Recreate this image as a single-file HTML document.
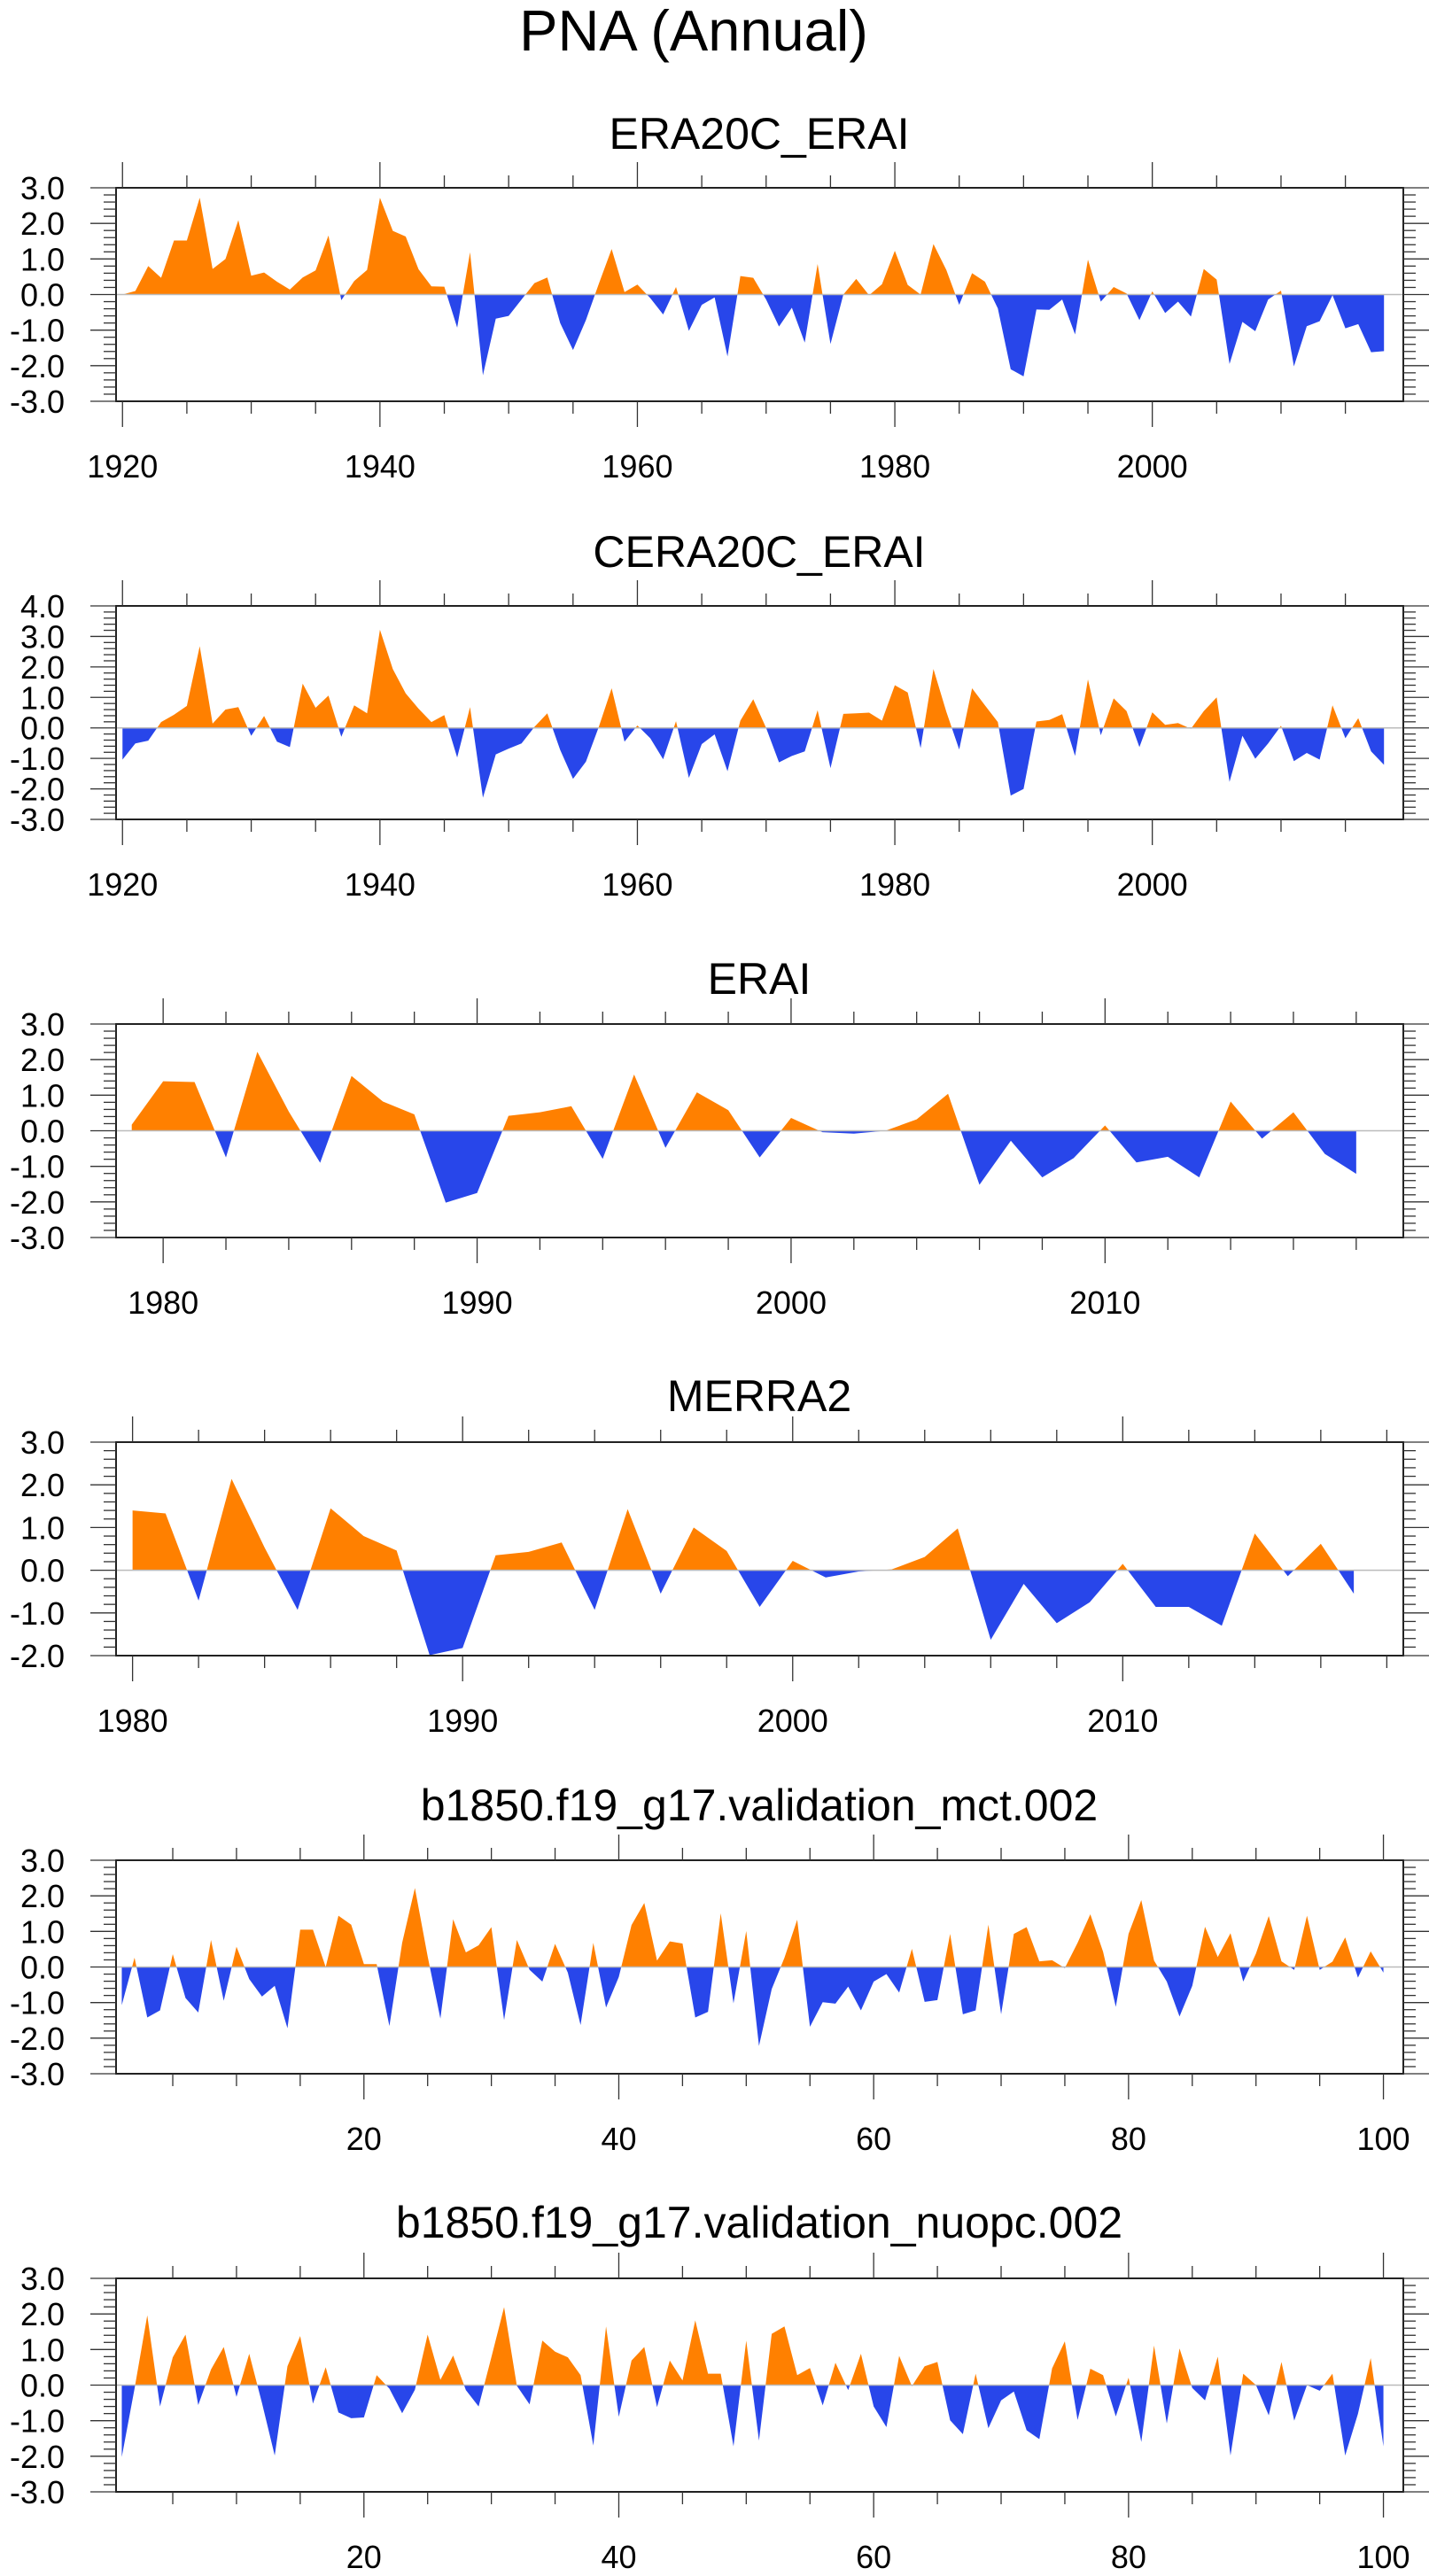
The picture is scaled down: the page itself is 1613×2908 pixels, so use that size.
<!DOCTYPE html>
<html><head><meta charset="utf-8"><title>PNA (Annual)</title>
<style>
html,body{margin:0;padding:0;background:#fff;}
svg{display:block;font-family:"Liberation Sans",Arial,sans-serif;}
</style></head>
<body>
<svg id="fig" xmlns="http://www.w3.org/2000/svg" width="1613" height="2908" viewBox="0 0 1613 2908">
<rect x="0" y="0" width="1613" height="2908" fill="#fff"/>
<text x="783" y="57" font-size="65" text-anchor="middle" fill="#000">PNA (Annual)</text>
</svg>
<script>
// ---- Data ----
const p1Values = [0.0,0.1,0.8,0.47,1.52,1.52,2.72,0.72,1.0,2.09,0.53,0.62,0.36,0.14,0.48,0.68,1.66,-0.16,0.38,0.69,2.72,1.79,1.63,0.71,0.23,0.22,-0.93,1.19,-2.27,-0.68,-0.6,-0.14,0.32,0.48,-0.8,-1.56,-0.72,0.3,1.28,0.07,0.28,-0.1,-0.56,0.21,-1.02,-0.29,-0.08,-1.74,0.52,0.47,-0.14,-0.9,-0.37,-1.35,0.86,-1.39,0.0,0.44,-0.02,0.29,1.23,0.27,0.0,1.42,0.69,-0.29,0.6,0.36,-0.39,-2.1,-2.3,-0.42,-0.43,-0.14,-1.12,0.98,-0.2,0.21,0.03,-0.72,0.09,-0.52,-0.2,-0.62,0.72,0.42,-1.95,-0.77,-1.03,-0.14,0.11,-2.02,-0.89,-0.75,-0.02,-0.95,-0.83,-1.62,-1.59];
const p2Values = [-1.04,-0.51,-0.42,0.19,0.43,0.72,2.68,0.14,0.6,0.68,-0.26,0.39,-0.45,-0.63,1.45,0.66,1.06,-0.29,0.74,0.48,3.22,1.93,1.13,0.63,0.19,0.42,-0.97,0.68,-2.29,-0.87,-0.68,-0.51,0.03,0.48,-0.72,-1.67,-1.11,0.03,1.3,-0.45,0.08,-0.34,-1.03,0.22,-1.64,-0.53,-0.21,-1.42,0.24,0.94,0.0,-1.13,-0.92,-0.77,0.58,-1.32,0.46,0.48,0.5,0.24,1.4,1.16,-0.66,1.93,0.53,-0.71,1.3,0.74,0.19,-2.22,-2.0,0.21,0.26,0.45,-0.92,1.59,-0.24,0.97,0.55,-0.63,0.51,0.1,0.16,-0.03,0.55,1.0,-1.77,-0.26,-1.01,-0.51,0.07,-1.09,-0.82,-1.04,0.74,-0.34,0.32,-0.77,-1.21];
const p3Values = [0.17,1.39,1.37,-0.75,2.22,0.54,-0.9,1.54,0.82,0.46,-2.02,-1.75,0.42,0.52,0.69,-0.79,1.58,-0.48,1.08,0.58,-0.75,0.36,-0.04,-0.08,0.0,0.32,1.04,-1.52,-0.28,-1.31,-0.77,0.15,-0.89,-0.73,-1.31,0.82,-0.22,0.52,-0.65,-1.21];
const p4Values = [1.4,1.33,-0.71,2.14,0.53,-0.93,1.45,0.8,0.46,-1.99,-1.82,0.35,0.43,0.65,-0.93,1.43,-0.55,1.0,0.45,-0.86,0.22,-0.17,-0.03,0.02,0.31,0.98,-1.63,-0.32,-1.24,-0.75,0.15,-0.86,-0.86,-1.3,0.86,-0.14,0.62,-0.55];
const p5Values = [-1.07,0.26,-1.42,-1.22,0.36,-0.87,-1.28,0.76,-0.95,0.57,-0.34,-0.83,-0.53,-1.72,1.05,1.05,0.0,1.44,1.19,0.08,0.08,-1.66,0.68,2.22,0.3,-1.45,1.34,0.41,0.61,1.12,-1.49,0.76,-0.08,-0.41,0.65,-0.16,-1.63,0.68,-1.14,-0.28,1.18,1.8,0.18,0.72,0.66,-1.42,-1.26,1.51,-1.02,1.01,-2.22,-0.62,0.26,1.33,-1.68,-0.99,-1.03,-0.55,-1.22,-0.41,-0.2,-0.72,0.51,-0.98,-0.93,0.93,-1.33,-1.22,1.19,-1.33,0.93,1.12,0.16,0.19,-0.03,0.68,1.48,0.43,-1.12,0.93,1.88,0.18,-0.41,-1.39,-0.53,1.13,0.28,0.95,-0.41,0.38,1.43,0.16,-0.08,1.44,-0.08,0.15,0.83,-0.3,0.44,-0.16];
const p6Values = [-2.02,-0.1,1.96,-0.6,0.78,1.42,-0.56,0.44,1.07,-0.33,0.88,-0.5,-1.98,0.53,1.38,-0.52,0.5,-0.77,-0.93,-0.91,0.28,-0.1,-0.79,-0.13,1.42,0.15,0.83,-0.14,-0.6,0.78,2.19,-0.02,-0.54,1.25,0.94,0.78,0.28,-1.7,1.65,-0.89,0.69,1.07,-0.62,0.69,0.13,1.82,0.32,0.32,-1.72,1.25,-1.56,1.44,1.65,0.28,0.48,-0.57,0.63,-0.14,0.88,-0.6,-1.18,0.82,-0.03,0.53,0.65,-0.99,-1.38,0.32,-1.21,-0.43,-0.18,-1.27,-1.52,0.47,1.23,-0.98,0.46,0.28,-0.88,0.21,-1.6,1.11,-1.08,1.03,-0.08,-0.43,0.8,-1.98,0.32,0.0,-0.85,0.65,-1.0,0.0,-0.16,0.32,-1.98,-0.81,0.76,-1.72];
const p1Start = 1920, p2Start = 1920, p3Start = 1979, p4Start = 1980, p5Start = 1, p6Start = 1;
const yearTicks20 = [1920,1940,1960,1980,2000];
const yearTicks10 = [1980,1990,2000,2010];
const indexTicks = [20,40,60,80,100];
const yTicksA = [-3,-2,-1,0,1,2,3];
const yTicksB = [-3,-2,-1,0,1,2,3,4];
const yTicksC = [-2,-1,0,1,2,3];

function cats(start, n){ const a=[]; for(let i=0;i<n;i++) a.push(start+i); return a; }
const p1Cats = cats(p1Start, p1Values.length);
const p2Cats = cats(p2Start, p2Values.length);
const p3Cats = cats(p3Start, p3Values.length);
const p4Cats = cats(p4Start, p4Values.length);
const p5Cats = cats(p5Start, p5Values.length);
const p6Cats = cats(p6Start, p6Values.length);

const NS = "http://www.w3.org/2000/svg";
const svg = document.getElementById('fig');
function mk(tag, attrs, parent){ const e=document.createElementNS(NS,tag); for(const k in attrs) e.setAttribute(k,attrs[k]); (parent||svg).appendChild(e); return e; }

const L = 131, R = 1584;
function fmt(v){ return (v<0?'-':'')+Math.abs(v).toFixed(1); }

function panel(o, idx){
  const g = mk('g', {});
  
  
  const xs = v => L + (v - o.xmin) / (o.xmax - o.xmin) * (R - L);
  const ys = v => o.bot - (v - o.ymin) / (o.ymax - o.ymin) * (o.bot - o.top);
  // title
  const t = mk('text', {x: 857, y: o.tb, 'font-size': 50, 'text-anchor': 'middle', fill: '#000'}, g);
  t.textContent = o.title;
  
  
  // clip paths
  const cid = 'c' + idx;
  const y0 = ys(0);
  const cpA = mk('clipPath', {id: cid + 'a'}, g); mk('rect', {x: L, y: o.top, width: R - L, height: y0 - o.top}, cpA);
  const cpB = mk('clipPath', {id: cid + 'b'}, g); mk('rect', {x: L, y: y0, width: R - L, height: o.bot - y0}, cpB);
  let d = 'M' + xs(o.cats[0]).toFixed(2) + ',' + y0.toFixed(2);
  for (let i = 0; i < o.vals.length; i++) d += ' L' + xs(o.cats[i]).toFixed(2) + ',' + ys(o.vals[i]).toFixed(2);
  d += ' L' + xs(o.cats[o.cats.length - 1]).toFixed(2) + ',' + y0.toFixed(2) + ' Z';
  const pa = mk('path', {d: d, fill: '#ff8000', 'clip-path': 'url(#' + cid + 'a)'}, g);
  
  
  const pb = mk('path', {d: d, fill: '#2846ea', 'clip-path': 'url(#' + cid + 'b)'}, g);
  
  
  // zero line
  const zl = mk('line', {x1: L, x2: R, y1: y0, y2: y0, stroke: '#bbb', 'stroke-width': 1.5}, g);
  
  
  // box
  const bx = mk('rect', {x: L, y: o.top, width: R - L, height: o.bot - o.top, fill: 'none', stroke: '#222', 'stroke-width': 2}, g);
  
  
  // y ticks
  for (let v = o.ymin; v <= o.ymax + 1e-6; v += 0.2) {
    const y = ys(v);
    const major = Math.abs(v - Math.round(v)) < 1e-6;
    const len = major ? 29 : 14;
    mk('line', {x1: L - len, x2: L, y1: y, y2: y, stroke: '#333', 'stroke-width': 1.3}, g);
    mk('line', {x1: R, x2: R + len, y1: y, y2: y, stroke: '#333', 'stroke-width': 1.3}, g);
  }
  o.yt.forEach(v => {
    const tx = mk('text', {x: 73, y: ys(v) + 13, 'font-size': 36, 'text-anchor': 'end', fill: '#000'}, g);
    tx.textContent = fmt(v);
    
    
  });
  // x ticks
  for (let v = Math.ceil(o.xmin / o.minor) * o.minor; v <= o.xmax; v += o.minor) {
    const x = xs(v);
    const major = o.xt.indexOf(v) >= 0 || (v % o.majorStep === 0);
    const len = major ? 29 : 14;
    mk('line', {x1: x, x2: x, y1: o.top - len, y2: o.top, stroke: '#333', 'stroke-width': 1.3}, g);
    mk('line', {x1: x, x2: x, y1: o.bot, y2: o.bot + len, stroke: '#333', 'stroke-width': 1.3}, g);
  }
  o.xt.forEach(v => {
    const tx = mk('text', {x: xs(v), y: o.bot + 86, 'font-size': 36, 'text-anchor': 'middle', fill: '#000'}, g);
    tx.textContent = String(v);
    
    
  });
}

panel({name:'era20c-erai', title:'ERA20C_ERAI', tb:168, top:212, bot:453, ymin:-3, ymax:3, xmin:1919.5, xmax:2019.5, minor:5, majorStep:20, xt:yearTicks20, yt:yTicksA, cats:p1Cats, vals:p1Values}, 1);
panel({name:'cera20c-erai', title:'CERA20C_ERAI', tb:640, top:684, bot:925, ymin:-3, ymax:4, xmin:1919.5, xmax:2019.5, minor:5, majorStep:20, xt:yearTicks20, yt:yTicksB, cats:p2Cats, vals:p2Values}, 2);
panel({name:'erai', title:'ERAI', tb:1122, top:1156, bot:1397, ymin:-3, ymax:3, xmin:1978.5, xmax:2019.5, minor:2, majorStep:10, xt:yearTicks10, yt:yTicksA, cats:p3Cats, vals:p3Values}, 3);
panel({name:'merra2', title:'MERRA2', tb:1593, top:1628, bot:1869, ymin:-2, ymax:3, xmin:1979.5, xmax:2018.5, minor:2, majorStep:10, xt:yearTicks10, yt:yTicksC, cats:p4Cats, vals:p4Values}, 4);
panel({name:'validation-mct', title:'b1850.f19_g17.validation_mct.002', tb:2055, top:2100, bot:2341, ymin:-3, ymax:3, xmin:0.55, xmax:101.56, minor:5, majorStep:20, xt:indexTicks, yt:yTicksA, cats:p5Cats, vals:p5Values}, 5);
panel({name:'validation-nuopc', title:'b1850.f19_g17.validation_nuopc.002', tb:2526, top:2572, bot:2813, ymin:-3, ymax:3, xmin:0.55, xmax:101.56, minor:5, majorStep:20, xt:indexTicks, yt:yTicksA, cats:p6Cats, vals:p6Values}, 6);
</script>
</body></html>
